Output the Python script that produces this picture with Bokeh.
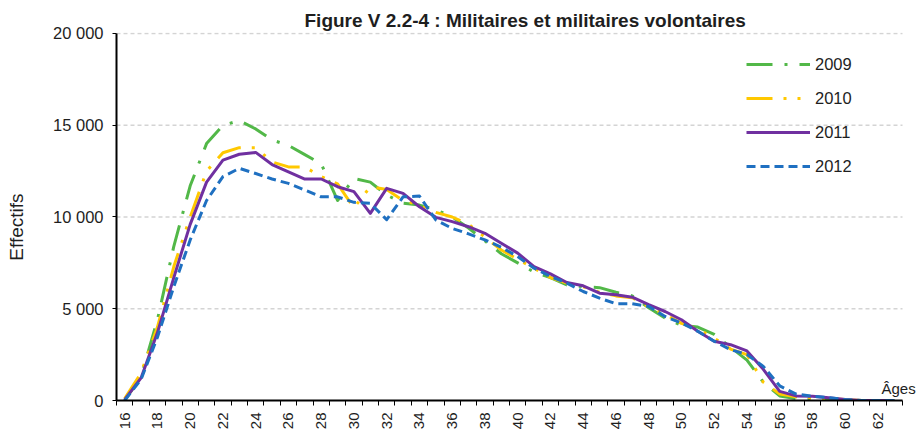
import math
from bokeh.plotting import figure
from bokeh.models import Range1d, FixedTicker, Legend, LegendItem, Label
from bokeh.embed import file_html
from bokeh.resources import INLINE

# ---- data -------------------------------------------------------------
ages = list(range(16, 64))
series_names = ["2009", "2010", "2011", "2012"]

y2009 = [0, 1300, 4400, 8400, 11700, 14000, 15000, 15250, 14800, 14200,
         13900, 13400, 12900, 10900, 12100, 11900, 11200, 10750, 10650, 10400,
         10000, 9400, 8700, 8000, 7500, 7000, 6700, 6300, 6200, 6150,
         5900, 5700, 5050, 4500, 4100, 4000, 3600, 2900, 2200, 1000,
         250, 100, 80, 50, 0, 0, 0, 0]
y2010 = [100, 1500, 4000, 7300, 10000, 12500, 13500, 13780, 13780, 13000,
         12730, 12730, 12200, 11800, 10500, 11650, 11500, 10900, 10650, 10250,
         10000, 9600, 8900, 8200, 7700, 7200, 6700, 6400, 6200, 5900,
         5700, 5600, 5100, 4700, 4200, 3900, 3400, 2800, 2500, 1000,
         350, 200, 150, 100, 50, 0, 0, 0]
y2011 = [50, 1230, 3700, 6700, 9600, 11900, 13100, 13420, 13520, 12860,
         12460, 12070, 12070, 11650, 11380, 10200, 11560, 11290, 10560, 9980,
         9750, 9470, 9110, 8570, 8030, 7300, 6900, 6430, 6250, 5850,
         5760, 5630, 5220, 4850, 4400, 3770, 3230, 3040, 2700, 1700,
         500, 250, 230, 150, 50, 0, 0, 0]
y2012 = [0, 1150, 3450, 6200, 8750, 10900, 12200, 12650, 12370, 12070,
         11830, 11470, 11100, 11100, 10800, 10750, 9850, 11100, 11140, 9840,
         9380, 9080, 8750, 8350, 7840, 7210, 6760, 6400, 5940, 5580,
         5270, 5270, 5130, 4580, 4220, 3770, 3230, 2770, 2500, 1860,
         800, 350, 230, 150, 50, 0, 0, 0]

y_ticks = [0, 5000, 10000, 15000, 20000]
y_tick_labels = ["0", "5 000", "10 000", "15 000", "20 000"]
x_label_ages = list(range(16, 63, 2))

title_text = "Figure V 2.2-4 : Militaires et militaires volontaires"
y_title = "Effectifs"
x_title = "Âges"

# ---- layout / styles --------------------------------------------------
W, H = 917, 432
LEFT, TOP, BOTTOM, AXIS_END = 116, 32, 31, 902   # pixel layout
FONT = "Liberation Sans"
TXT = "#1e1e1e"
styles = [
    dict(color="#52b848", dash="26 12 3 12"),
    dict(color="#ffc800", dash="26 11 3 11 3 11"),
    dict(color="#7030a0", dash="solid"),
    dict(color="#1f70c1", dash="9 5"),
]

x0, x1 = ages[0] - 0.5, ages[-1] + 0.5
px_per_year = (AXIS_END - LEFT) / (x1 - x0)
x_end = x1 + (W - AXIS_END) / px_per_year          # frame runs to the right edge
frame_h = H - TOP - BOTTOM
y_end = y_ticks[-1] * frame_h / (frame_h - 1)       # 20 000 one pixel below frame top

p = figure(width=W, height=H, output_backend="svg", toolbar_location=None,
           x_range=Range1d(x0, x_end), y_range=Range1d(0, y_end),
           min_border_left=LEFT, min_border_right=0,
           min_border_top=TOP, min_border_bottom=BOTTOM)
p.outline_line_color = None
p.background_fill_color = "white"
p.border_fill_color = "white"

# title
p.title.text = title_text
p.title.text_font = FONT
p.title.text_font_size = "19px"
p.title.text_font_style = "bold"
p.title.text_color = TXT
p.title.align = "left"
p.title.offset = 188
p.title.standoff = 3

# horizontal dashed grid lines, ending with the x axis
p.xgrid.visible = False
p.ygrid.visible = False
p.segment(x0=[x0] * 4, x1=[x1] * 4, y0=y_ticks[1:], y1=y_ticks[1:],
          line_color="#d4d4d4", line_dash="4 3", line_width=1.5)

# y axis
p.yaxis.ticker = FixedTicker(ticks=y_ticks)
p.yaxis.bounds = (y_ticks[0], y_ticks[-1])
p.yaxis.major_label_overrides = {t: l for t, l in zip(y_ticks, y_tick_labels)}
p.yaxis.axis_line_width = 2
p.yaxis.axis_line_color = "black"
p.yaxis.major_tick_out = 4
p.yaxis.major_tick_in = 0
p.yaxis.minor_tick_line_color = None
p.yaxis.major_label_standoff = 9
p.yaxis.major_label_text_font = FONT
p.yaxis.major_label_text_font_size = "16.5px"
p.yaxis.major_label_text_color = TXT
p.yaxis.axis_label = y_title + "\u00a0" * 4
p.yaxis.axis_label_text_font = FONT
p.yaxis.axis_label_text_font_style = "normal"
p.yaxis.axis_label_text_font_size = "19px"
p.yaxis.axis_label_text_color = TXT
p.yaxis.axis_label_standoff = 23

# x axis
p.xaxis.ticker = FixedTicker(ticks=x_label_ages,
                             minor_ticks=[a - 0.5 for a in ages] + [x1])
p.xaxis.bounds = (x0, x1)
p.xaxis.axis_line_width = 2
p.xaxis.axis_line_color = "black"
p.xaxis.major_tick_out = 0
p.xaxis.major_tick_in = 0
p.xaxis.minor_tick_out = 5
p.xaxis.minor_tick_in = 0
p.xaxis.minor_tick_line_color = "black"
p.xaxis.minor_tick_line_width = 1
p.xaxis.major_label_orientation = math.pi / 2
p.xaxis.major_label_standoff = 7
p.xaxis.major_label_text_font = FONT
p.xaxis.major_label_text_font_size = "15px"
p.xaxis.major_label_text_color = TXT

# lines
items = []
for name, ys, st in zip(series_names, [y2009, y2010, y2011, y2012], styles):
    r = p.line(ages, ys, line_color=st["color"], line_width=3,
               line_dash=st["dash"], line_join="round")
    items.append(LegendItem(label=name, renderers=[r]))

legend = Legend(items=items, location=(630, 224), padding=0, margin=0,
                border_line_color=None, background_fill_alpha=0,
                glyph_width=64, glyph_height=20, label_height=20,
                spacing=14, label_standoff=5,
                label_text_font=FONT, label_text_font_size="16.5px",
                label_text_color=TXT)
p.add_layout(legend)

# "Âges" label at the right end of the x axis
p.add_layout(Label(x=765, y=12, x_units="screen", y_units="screen",
                   text=x_title, text_font=FONT, text_font_size="15px",
                   text_color=TXT, text_align="left", text_baseline="alphabetic"))

open("out.html", "w").write(file_html(p, INLINE))
